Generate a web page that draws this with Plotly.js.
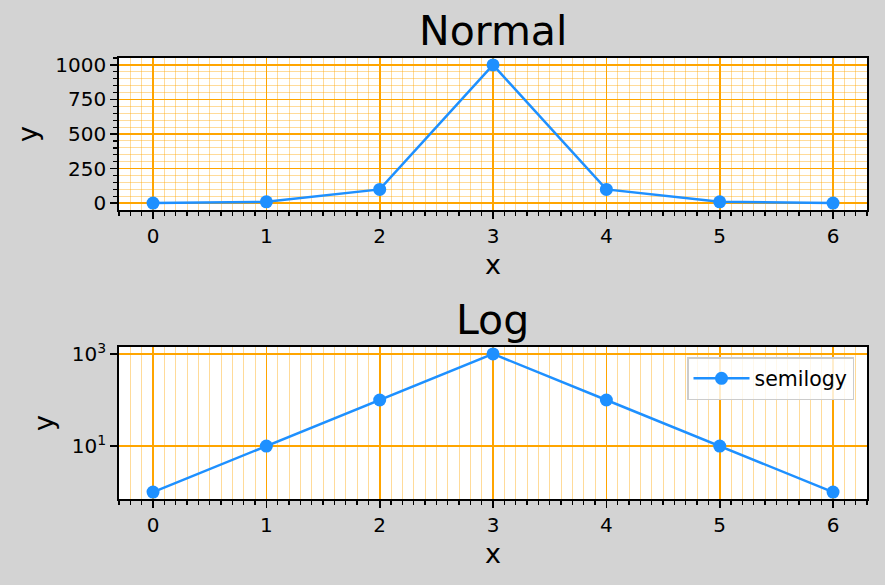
<!DOCTYPE html>
<html>
<head>
<meta charset="utf-8">
<script src="https://cdn.plot.ly/plotly-3.0.1.min.js"></script>
<style>html,body{margin:0;padding:0;background:#d3d3d3;}#chart{width:885px;height:585px;}</style>
</head>
<body>
<div id="chart"></div>
<script>
// ---- data ----
const xValues = [0, 1, 2, 3, 4, 5, 6];
const yValues = [1, 10, 100, 1000, 100, 10, 1];
const seriesName = "semilogy";
const titleTop = "Normal";
const titleBottom = "Log";
const logTickVals = [10, 1000];
const logTickText = ["10<sup>1</sup>", "10<sup>3</sup>"];

const blue = "#1e90ff";
const font = "DejaVu Sans, sans-serif";
const majorGrid = "#ffa500";
const minorGrid = "rgba(255,165,0,0.5)";

const traces = [
  {x: xValues, y: yValues, xaxis: "x", yaxis: "y", mode: "lines+markers",
   line: {color: blue, width: 2.5}, marker: {color: blue, size: 13}, showlegend: false, name: seriesName},
  {x: xValues, y: yValues, xaxis: "x2", yaxis: "y2", mode: "lines+markers",
   line: {color: blue, width: 2.5}, marker: {color: blue, size: 13}, showlegend: true, name: seriesName}
];

function xAxis(anchor) {
  return {
    anchor: anchor, domain: [0.1345, 0.9797], range: [-0.3, 6.3],
    tickmode: "linear", tick0: 0, dtick: 1,
    ticks: "outside", ticklen: 7, tickwidth: 1.6, tickcolor: "#000",
    showline: true, linecolor: "#000", linewidth: 1.8, mirror: true,
    showgrid: true, gridcolor: majorGrid, gridwidth: 1.6, zeroline: false,
    tickfont: {family: font, size: 20, color: "#000"},
    title: {text: "x", font: {family: font, size: 27, color: "#000"}, standoff: 8},
    minor: {tick0: 0, dtick: 0.1, ticks: "outside", ticklen: 4, tickwidth: 1.2, tickcolor: "#000",
            showgrid: true, gridcolor: minorGrid, gridwidth: 0.8}
  };
}

const layout = {
  width: 885, height: 585,
  paper_bgcolor: "#d3d3d3", plot_bgcolor: "#ffffff",
  margin: {l: 0, r: 0, t: 0, b: 0},
  font: {family: font, color: "#000"},
  xaxis: xAxis("y"),
  xaxis2: xAxis("y2"),
  yaxis: {
    anchor: "x", domain: [0.641, 0.9009], range: [-48.95, 1049.95],
    tickmode: "linear", tick0: 0, dtick: 250,
    ticks: "outside", ticklen: 7, tickwidth: 1.6, tickcolor: "#000",
    showline: true, linecolor: "#000", linewidth: 1.8, mirror: true,
    showgrid: true, gridcolor: majorGrid, gridwidth: 1.6, zeroline: false,
    tickfont: {family: font, size: 20, color: "#000"},
    title: {text: "y", font: {family: font, size: 27, color: "#000"}, standoff: 10},
    minor: {tick0: 0, dtick: 50, ticks: "outside", ticklen: 4, tickwidth: 1.2, tickcolor: "#000",
            showgrid: true, gridcolor: minorGrid, gridwidth: 0.8}
  },
  yaxis2: {
    anchor: "x2", domain: [0.147, 0.4068], type: "log", range: [-0.15, 3.15],
    tickmode: "array", tickvals: logTickVals, ticktext: logTickText,
    ticks: "outside", ticklen: 7, tickwidth: 1.6, tickcolor: "#000",
    showline: true, linecolor: "#000", linewidth: 1.8, mirror: true,
    showgrid: true, gridcolor: majorGrid, gridwidth: 1.6, zeroline: false,
    tickfont: {family: font, size: 20, color: "#000"},
    title: {text: "y", font: {family: font, size: 27, color: "#000"}, standoff: 10}
  },
  legend: {
    x: 687 / 885, xanchor: "left", y: 1 - 357 / 585, yanchor: "top",
    itemwidth: 56,
    bgcolor: "rgba(255,255,255,0.8)", bordercolor: "#cccccc", borderwidth: 1.5,
    font: {family: font, size: 20.5, color: "#000"}
  },
  annotations: [
    {text: titleTop, xref: "paper", yref: "paper", x: 0.557, y: 1 - 31 / 585,
     xanchor: "center", yanchor: "middle", showarrow: false, font: {family: font, size: 41, color: "#000"}},
    {text: titleBottom, xref: "paper", yref: "paper", x: 0.557, y: 1 - 320 / 585,
     xanchor: "center", yanchor: "middle", showarrow: false, font: {family: font, size: 41, color: "#000"}}
  ]
};

Plotly.newPlot("chart", traces, layout, {displayModeBar: false, staticPlot: true});
</script>
</body>
</html>
